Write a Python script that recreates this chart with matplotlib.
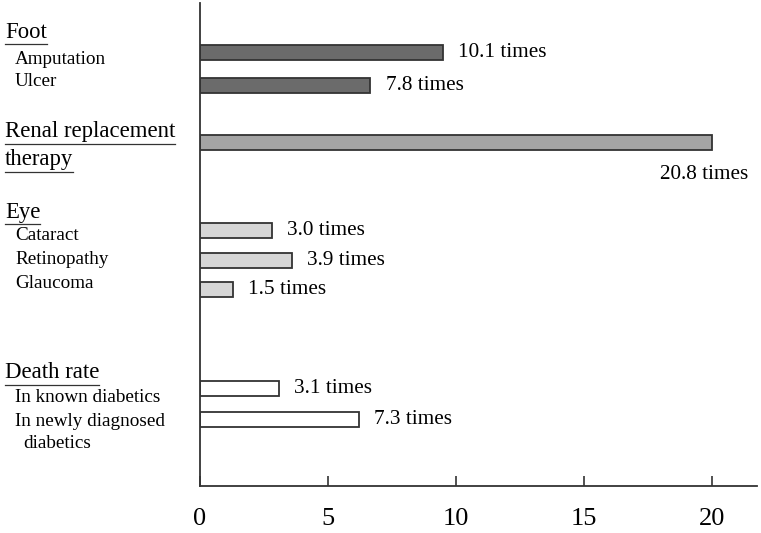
import matplotlib
matplotlib.use("Agg")
import matplotlib.pyplot as plt
from matplotlib.lines import Line2D

plt.rcParams['font.family'] = ['Liberation Serif', 'DejaVu Serif']

# bar values (drawn lengths) and their printed labels
bar_names = ['Amputation', 'Ulcer', 'Renal replacement therapy',
             'Cataract', 'Retinopathy', 'Glaucoma',
             'In known diabetics', 'In newly diagnosed diabetics']
bar_values = [9.5, 6.65, 20.0, 2.8, 3.6, 1.27, 3.07, 6.2]
value_labels = ['10.1 times', '7.8 times', '20.8 times', '3.0 times',
                '3.9 times', '1.5 times', '3.1 times', '7.3 times']
bar_colors = ['#6b6b6b', '#6b6b6b', '#a4a4a4', '#d6d6d6',
              '#d6d6d6', '#d6d6d6', '#ffffff', '#ffffff']
x_ticks = [0, 5, 10, 15, 20]

# layout: row centres in pixel rows of the picture
bar_rows = [52.5, 86, 143, 231, 261, 290, 389, 420]

fig = plt.figure(figsize=(7.61, 5.33), dpi=100)
ax = fig.add_axes([200 / 761, 1 - 486 / 533, 557 / 761, 483 / 533])

ax.barh(bar_rows, bar_values, height=15, color=bar_colors,
        edgecolor='#333333', linewidth=1.3)
ax.set_xlim(0, 21.76)
ax.set_ylim(486, 3)

for i, (v, lab) in enumerate(zip(bar_values, value_labels)):
    if i == 2:
        ax.annotate(lab, (v, bar_rows[i]), xytext=(26, -23),
                    textcoords='offset points', ha='right', va='center',
                    fontsize=15.3)
    else:
        ax.annotate(lab, (v, bar_rows[i]), xytext=(11, 0),
                    textcoords='offset points', ha='left', va='center',
                    fontsize=15.3)

for s in ['top', 'right']:
    ax.spines[s].set_visible(False)
for s in ['left', 'bottom']:
    ax.spines[s].set_linewidth(1.3)
    ax.spines[s].set_color('#333333')
ax.set_yticks([])
ax.set_xticks(x_ticks)
ax.tick_params(axis='x', direction='in', length=7, width=1.2,
               color='#333333', labelsize=19, pad=16)

# left-hand labels
headers = [('Foot', 32), ('Renal replacement', 132), ('therapy', 160),
           ('Eye', 213), ('Death rate', 373)]
subs = [('Amputation', 59), ('Ulcer', 82), ('Cataract', 236),
        ('Retinopathy', 260), ('Glaucoma', 283), ('In known diabetics', 398),
        ('In newly diagnosed', 421), ('diabetics', 444)]

head_texts = []
for t, y in headers:
    head_texts.append(fig.text(5 / 761, 1 - y / 533, t, fontsize=16.4,
                               ha='left', va='center'))
for t, y in subs:
    x = 23 if t == 'diabetics' else 15
    fig.text(x / 761, 1 - y / 533, t, fontsize=13.8, ha='left', va='center')

fig.canvas.draw()
r = fig.canvas.get_renderer()
for ht in head_texts:
    bb = ht.get_window_extent(r)
    yl = bb.y0 - 1
    fig.add_artist(Line2D([bb.x0 / 761, bb.x1 / 761], [yl / 533, yl / 533],
                          color='#333333', linewidth=0.9))

fig.savefig('out.png', dpi=100)
